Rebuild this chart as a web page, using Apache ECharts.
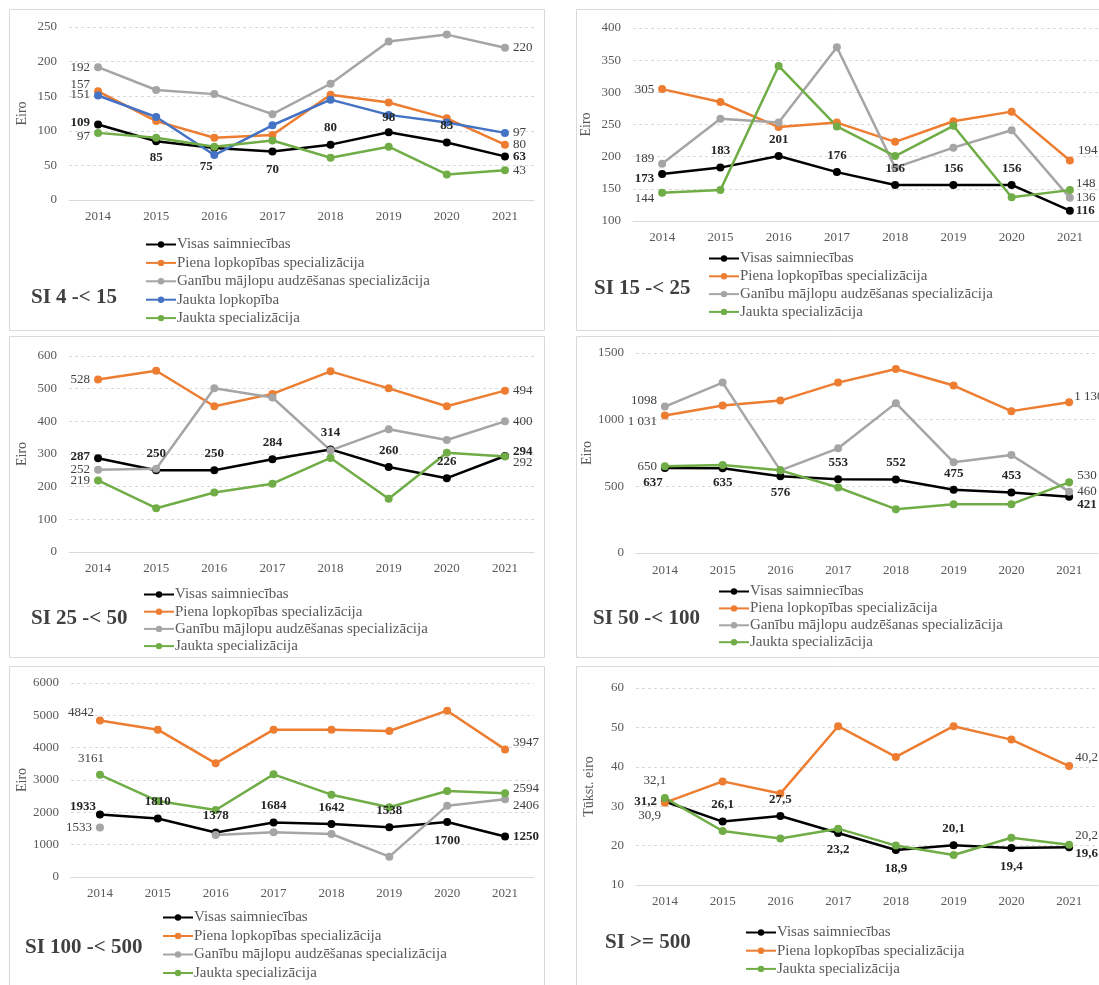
<!DOCTYPE html>
<html>
<head>
<meta charset="utf-8">
<script src="https://cdn.jsdelivr.net/npm/echarts@6/dist/echarts.min.js"></script>
<style>
html,body{margin:0;padding:0;background:#fff;}
#c{width:1099px;height:985px;}
</style>
</head>
<body>
<div id="c"></div>
<script>
// ---------- DATA ----------
const YEARS = ['2014','2015','2016','2017','2018','2019','2020','2021'];
const NAMES = {
  visas: 'Visas saimniecības',
  piena: 'Piena lopkopības specializācija',
  ganibu: 'Ganību mājlopu audzēšanas specializācija',
  jlopk: 'Jaukta lopkopība',
  jspec: 'Jaukta specializācija'
};
const TITLES = ['SI 4 -< 15','SI 15 -< 25','SI 25 -< 50','SI 50 -< 100','SI 100 -< 500','SI >= 500'];

// SI 4 -< 15
const P1_VISAS  = [109, 85, 75, 70, 80, 98, 83, 63];
const P1_PIENA  = [157, 114, 90, 94, 152, 141, 118, 80];
const P1_GANIBU = [192, 159, 153, 124, 168, 229, 239, 220];
const P1_JLOPK  = [151, 120, 65, 108, 145, 123, 112, 97];
const P1_JSPEC  = [97, 90, 77, 86, 61, 77, 37, 43];
// SI 15 -< 25
const P2_VISAS  = [173, 183, 201, 176, 156, 156, 156, 116];
const P2_PIENA  = [305, 285, 246, 253, 223, 255, 270, 194];
const P2_GANIBU = [189, 259, 253, 370, 183, 214, 241, 136];
const P2_JSPEC  = [144, 148, 341, 247, 201, 248, 137, 148];
// SI 25 -< 50
const P3_VISAS  = [287, 250, 250, 284, 314, 260, 226, 294];
const P3_PIENA  = [528, 555, 446, 484, 553, 501, 446, 494];
const P3_GANIBU = [252, 255, 501, 473, 311, 376, 343, 400];
const P3_JSPEC  = [219, 134, 182, 209, 288, 163, 304, 292];
// SI 50 -< 100
const P4_VISAS  = [637, 635, 576, 553, 552, 475, 453, 421];
const P4_PIENA  = [1031, 1106, 1143, 1278, 1380, 1256, 1064, 1130];
const P4_GANIBU = [1098, 1278, 620, 785, 1124, 680, 735, 460];
const P4_JSPEC  = [650, 660, 620, 491, 329, 366, 366, 530];
// SI 100 -< 500
const P5_VISAS  = [1933, 1810, 1378, 1684, 1642, 1538, 1700, 1250];
const P5_PIENA  = [4842, 4557, 3515, 4557, 4557, 4515, 5144, 3947];
const P5_GANIBU = [1533, null, 1299, 1381, 1330, 629, 2206, 2406];
const P5_JSPEC  = [3161, 2350, 2072, 3175, 2546, 2155, 2660, 2594];
// SI >= 500 (tūkst. eiro)
const P6_VISAS  = [31.2, 26.1, 27.5, 23.2, 18.9, 20.1, 19.4, 19.6];
const P6_PIENA  = [30.9, 36.3, 33.2, 50.3, 42.5, 50.3, 46.9, 40.2];
const P6_JSPEC  = [32.1, 23.7, 21.8, 24.3, 20.0, 17.6, 22.0, 20.2];

// Y axis ranges per panel
const Y_MIN = [0, 100, 0, 0, 0, 10];
const Y_MAX = [250, 400, 600, 1500, 6000, 60];
const Y_STEP = [50, 50, 100, 500, 1000, 10];
const Y_NAMES = ['Eiro','Eiro','Eiro','Eiro','Eiro','Tūkst. eiro'];

// ---------- STYLE / LAYOUT ----------
const FONT = '"Liberation Serif","Times New Roman",serif';
const COLORS = { visas:'#000000', piena:'#ED7D31', ganibu:'#A5A5A5', jlopk:'#4472C4', jspec:'#70AD47' };
const GRIDS = [
  {left:69,  top:27,  width:465, height:173},
  {left:633, top:28,  width:470, height:193},
  {left:69,  top:356, width:465, height:196},
  {left:636, top:353, width:462, height:200},
  {left:71,  top:683, width:463, height:194},
  {left:636, top:688, width:462, height:197}
];
const XMARGIN = [10, 10, 10, 11, 10, 10];
const BORDERS = [
  {x:9,  y:9,   w:535, h:321},
  {x:576,y:9,   w:530, h:321},
  {x:9,  y:336, w:535, h:321},
  {x:576,y:336, w:530, h:321},
  {x:9,  y:666, w:535, h:330},
  {x:576,y:666, w:530, h:330}
];
const TITLE_POS = [
  {left:31, top:287},{left:594, top:278},{left:31, top:608},
  {left:593, top:608},{left:25, top:937},{left:605, top:932}
];
const LEGEND_POS = [
  {left:145, top:237, gap:3.4},{left:708, top:251, gap:2.8},{left:143, top:587, gap:2.2},
  {left:718, top:584, gap:1.9},{left:162, top:910, gap:3.5},{left:745, top:925, gap:3.2}
];

// label placements: index -> [position, dx, dy]
const L = {
  p1: {
    visas: {0:['left',0,-2],1:['bottom',0,2],2:['bottom',-8,4],3:['bottom',0,4],4:['top',0,-2],5:['top',0,0],6:['top',0,-2],7:['right',0,0]},
    piena: {0:['left',0,-7],7:['right',0,0]},
    ganibu:{0:['left',0,0],7:['right',0,0]},
    jlopk: {0:['left',0,-1],7:['right',0,0]},
    jspec: {0:['left',0,4],7:['right',0,0]}
  },
  p2: {
    visas: {0:['left',0,5],1:['top',0,-2],2:['top',0,-2],3:['top',0,-2],4:['top',0,-2],5:['top',0,-2],6:['top',0,-2],7:['right',-2,0]},
    piena: {0:['left',0,0],7:['right',0,-10]},
    ganibu:{0:['left',0,-5],7:['right',-2,0]},
    jspec: {0:['left',0,6],7:['right',-2,-7]}
  },
  p3: {
    visas: {0:['left',0,-2],1:['top',0,-2],2:['top',0,-2],3:['top',0,-2],4:['top',0,-2],5:['top',0,-2],6:['top',0,-2],7:['right',0,-4]},
    piena: {0:['left',0,0],7:['right',0,0]},
    ganibu:{0:['left',0,0],7:['right',0,0]},
    jspec: {0:['left',0,0],7:['right',0,6]}
  },
  p4: {
    visas: {0:['bottom',-12,0],1:['bottom',0,0],2:['bottom',0,2],3:['top',0,-2],4:['top',0,-2],5:['top',0,-2],6:['top',0,-2],7:['right',0,8]},
    piena: {0:['left',0,6],7:['right',-3,-6]},
    ganibu:{0:['left',0,-6],7:['right',0,0]},
    jspec: {0:['left',0,0],7:['right',0,-7]}
  },
  p5: {
    visas: {0:['left',4,-8],1:['top',0,-2],2:['top',0,-2],3:['top',0,-2],4:['top',0,-2],5:['top',0,-2],6:['bottom',0,4],7:['right',0,0]},
    piena: {0:['left',2,-8],7:['right',0,-7]},
    ganibu:{0:['left',0,0],7:['right',0,6]},
    jspec: {0:['top',-9,-2],7:['right',0,-5]}
  },
  p6: {
    visas: {0:['left',0,0],1:['top',0,-2],2:['top',0,-2],3:['bottom',0,2],4:['bottom',0,4],5:['top',0,-2],6:['bottom',0,4],7:['right',-2,6]},
    piena: {0:['left',4,13],7:['right',-2,-8]},
    jspec: {0:['top',-10,-3],7:['right',-2,-9]}
  }
};

// ---------- BUILD ----------
const fmtInt = v => String(v);
const fmtSpace = v => String(v).replace(/\B(?=(\d{3})+(?!\d))/g, ' ');
const fmtComma = v => v.toFixed(1).replace('.', ',');

function mkSeries(panel, key, values, places, fmt) {
  const bold = key === 'visas';
  const data = values.map((v, i) => {
    const p = places[i];
    if (!p || v == null) return v;
    return {
      value: v,
      label: {
        show: true,
        position: p[0],
        offset: [p[1], p[2]],
        distance: 4,
        formatter: () => fmt(v),
        fontFamily: FONT,
        fontSize: 13,
        fontWeight: bold ? 'bold' : 'normal',
        color: bold ? '#262626' : '#404040'
      }
    };
  });
  return {
    name: NAMES[key], type: 'line', xAxisIndex: panel, yAxisIndex: panel,
    data, symbol: 'circle', symbolSize: 8, showSymbol: true,
    connectNulls: false, animation: false,
    lineStyle: {color: COLORS[key], width: 2.5},
    itemStyle: {color: COLORS[key]},
    label: {show: false},
    emphasis: {disabled: true}
  };
}

const PANELS = [
  [['visas',P1_VISAS],['piena',P1_PIENA],['ganibu',P1_GANIBU],['jlopk',P1_JLOPK],['jspec',P1_JSPEC]],
  [['visas',P2_VISAS],['piena',P2_PIENA],['ganibu',P2_GANIBU],['jspec',P2_JSPEC]],
  [['visas',P3_VISAS],['piena',P3_PIENA],['ganibu',P3_GANIBU],['jspec',P3_JSPEC]],
  [['visas',P4_VISAS],['piena',P4_PIENA],['ganibu',P4_GANIBU],['jspec',P4_JSPEC]],
  [['visas',P5_VISAS],['piena',P5_PIENA],['ganibu',P5_GANIBU],['jspec',P5_JSPEC]],
  [['visas',P6_VISAS],['piena',P6_PIENA],['jspec',P6_JSPEC]]
];

const series = [], grid = [], xAxis = [], yAxis = [], legend = [], title = [], graphic = [];
PANELS.forEach((list, i) => {
  const pl = L['p' + (i + 1)];
  list.forEach(([key, vals]) => {
    let fmt = fmtInt;
    if (i === 5) fmt = fmtComma;
    else if (i === 3 && key === 'piena') fmt = fmtSpace;
    series.push(mkSeries(i, key, vals, pl[key] || {}, fmt));
  });
  grid.push(Object.assign({containLabel: false}, GRIDS[i]));
  xAxis.push({
    type: 'category', gridIndex: i, data: YEARS, boundaryGap: true,
    axisTick: {show: false},
    axisLine: {lineStyle: {color: '#D9D9D9', width: 1}},
    axisLabel: {color: '#595959', fontFamily: FONT, fontSize: 13, margin: XMARGIN[i]}
  });
  yAxis.push({
    type: 'value', gridIndex: i, min: Y_MIN[i], max: Y_MAX[i], interval: Y_STEP[i],
    axisLine: {show: false}, axisTick: {show: false},
    splitLine: {lineStyle: {color: '#D9D9D9', type: [3, 3], width: 1}},
    axisLabel: {color: '#595959', fontFamily: FONT, fontSize: 13, margin: 12, formatter: v => String(v)},
    name: Y_NAMES[i], nameLocation: 'middle', nameGap: 40, nameRotate: 90,
    nameTextStyle: {color: '#595959', fontFamily: FONT, fontSize: 14}
  });
  legend.push({
    data: list.map(([k]) => NAMES[k]),
    orient: 'vertical', left: LEGEND_POS[i].left, top: LEGEND_POS[i].top,
    itemGap: LEGEND_POS[i].gap, itemWidth: 30, itemHeight: 8, padding: 0,
    selectedMode: false,
    textStyle: {color: '#595959', fontFamily: FONT, fontSize: 15, padding: [0,0,0,-4]}
  });
  title.push({
    text: TITLES[i], left: TITLE_POS[i].left, top: TITLE_POS[i].top, padding: 0,
    textStyle: {color: '#404040', fontFamily: FONT, fontSize: 21, fontWeight: 'bold'}
  });
  const b = BORDERS[i];
  graphic.push({
    type: 'rect', shape: {x: b.x + 0.5, y: b.y + 0.5, width: b.w, height: b.h},
    style: {fill: 'none', stroke: '#D9D9D9', lineWidth: 1}, z: -1, silent: true
  });
});

const chart = echarts.init(document.getElementById('c'), null, {renderer: 'canvas'});
chart.setOption({
  backgroundColor: '#ffffff',
  animation: false,
  title, legend, grid, xAxis, yAxis, series, graphic
});
</script>
</body>
</html>
